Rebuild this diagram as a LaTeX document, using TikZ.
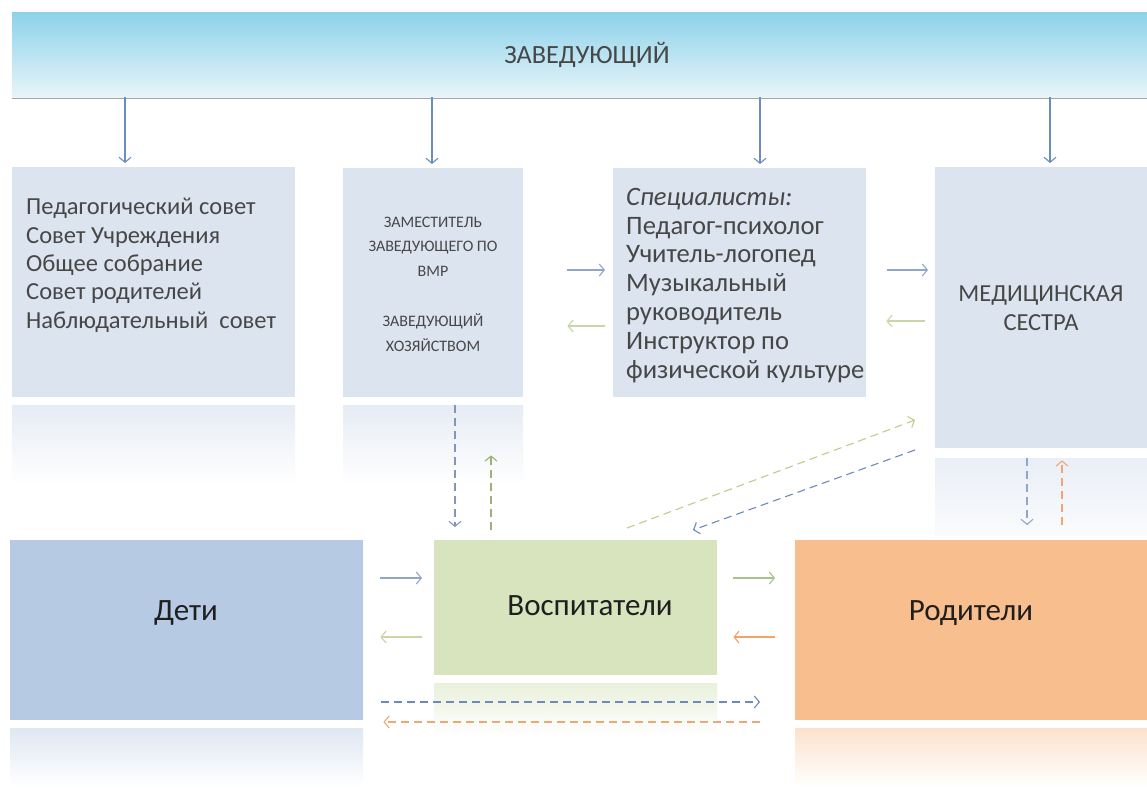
\documentclass[tikz,border=0pt]{standalone}
\usepackage{fontspec}
\setmainfont{Carlito}
\usetikzlibrary{arrows.meta,calc}
\definecolor{boxgray}{HTML}{DCE4EF}
\definecolor{bantop}{HTML}{8DD2EA}
\definecolor{banbot}{HTML}{E8F5F9}
\definecolor{detifill}{HTML}{B7CAE3}
\definecolor{vospfill}{HTML}{D7E4BD}
\definecolor{rodfill}{HTML}{F9BE8D}
\definecolor{txtgray}{HTML}{474747}
\definecolor{topblue}{HTML}{6D8CBE}
\definecolor{cblue}{HTML}{8FA7CC}
\definecolor{cgreen}{HTML}{C8D6A8}
\definecolor{cgreen2}{HTML}{A9C18A}
\definecolor{corange}{HTML}{F2A46C}
\definecolor{dblue}{HTML}{6E8AB8}
\definecolor{dgreen}{HTML}{BCCF8E}
\definecolor{dorange}{HTML}{F1A676}
\begin{document}
\begin{tikzpicture}[x=1pt,y=-1pt,
  plainbox/.style={fill=boxgray, draw=none, inner sep=0pt, anchor=north west},
  arr/.style={-{Straight Barb[length=5pt,width=12pt]}, line width=1.1pt},
  dsh/.style={arr, dash pattern=on 8pt off 5pt},
  txt/.style={text=txtgray, inner sep=0pt},
  bigtxt/.style={inner sep=0pt, text=black!88, font=\fontsize{31}{34}\selectfont, anchor=base}
]
\useasboundingbox (0,0) rectangle (1147,787);
\fill[white] (0,0) rectangle (1147,787);

% banner
\fill[gray!70] (12,95) rectangle (1165,99);
\node[inner sep=0pt, anchor=north west, minimum width=1153pt, minimum height=85pt,
      top color=bantop, bottom color=banbot, draw=none] (top) at (12,12) {};
\node[txt, font=\fontsize{26.3}{30}\selectfont] (toptxt) at (587,55) {ЗАВЕДУЮЩИЙ};

% upper boxes
\node[plainbox, minimum width=283pt, minimum height=230pt] (b1) at (12,167) {};
\node[plainbox, minimum width=180pt, minimum height=229pt] (b2) at (343,168) {};
\node[plainbox, minimum width=253pt, minimum height=229pt] (b3) at (613,168) {};
\node[plainbox, minimum width=212pt, minimum height=281pt] (b4) at (935,167) {};

% reflections
\shade[top color=boxgray!70, bottom color=white] (12,405) rectangle (295,485);
\shade[top color=boxgray!70, bottom color=white] (343,405) rectangle (523,485);
\shade[top color=boxgray!60, bottom color=boxgray!15] (935,458) rectangle (1147,535);

% texts upper (base anchor = last line)
\node[txt, anchor=base west, align=left, font=\fontsize{24.5}{28.3}\selectfont] (t1) at (26,328)
  {Педагогический совет\\Совет Учреждения\\Общее собрание\\Совет родителей\\Наблюдательный\ \ совет};
\node[txt, align=center, font=\fontsize{16}{24.8}\selectfont] (t2) at (433,284)
  {ЗАМЕСТИТЕЛЬ\\ЗАВЕДУЮЩЕГО ПО\\ВМР\\[24.8pt]ЗАВЕДУЮЩИЙ\\ХОЗЯЙСТВОМ};
\node[txt, anchor=base west, align=left, font=\fontsize{26.6}{28.8}\selectfont] (t3) at (626,378)
  {\textit{Специалисты:}\\Педагог-психолог\\Учитель-логопед\\Музыкальный\\руководитель\\Инструктор по\\физической культуре};
\node[txt, anchor=base, align=center, font=\fontsize{24.5}{29}\selectfont] (t4) at (1041,330)
  {МЕДИЦИНСКАЯ\\СЕСТРА};

% lower boxes
\node[plainbox, fill=detifill, minimum width=353pt, minimum height=180pt] (deti) at (10,540) {};
\node[plainbox, fill=vospfill, minimum width=283pt, minimum height=135pt] (vosp) at (434,540) {};
\node[plainbox, fill=rodfill, minimum width=352pt, minimum height=180pt] (rod) at (795,540) {};
\shade[top color=detifill!45, bottom color=white] (10,728) rectangle (363,787);
\shade[top color=vospfill!55, bottom color=white] (434,683) rectangle (717,735);
\shade[top color=rodfill!45, bottom color=white] (795,728) rectangle (1147,787);

\node[bigtxt] (tdeti) at (186,620) {Дети};
\node[bigtxt] (tvosp) at (590,615) {Воспитатели};
\node[bigtxt] (trod) at (971,620) {Родители};

% helper coordinates
\coordinate (x1) at (125,0);
\coordinate (x2) at (432,0);
\coordinate (x3) at (760,0);
\coordinate (x4) at (1050,0);
\coordinate (ya) at (0,270);
\coordinate (yb) at (0,326);
\coordinate (yc) at (0,321);
\coordinate (vx1) at (455,0);
\coordinate (vx2) at (491,0);
\coordinate (vx3) at (1027,0);
\coordinate (vx4) at (1062,0);
\coordinate (y1) at (0,578);
\coordinate (y2) at (0,637);
\coordinate (y3) at (0,702);
\coordinate (y4) at (0,722);
\coordinate (g1) at (627,528);
\coordinate (g2) at (915,420);
\coordinate (h1) at (915,450);
\coordinate (h2) at (693,530);

% top arrows
\foreach \xc/\bx in {x1/b1,x2/b2,x3/b3,x4/b4}
  \draw[arr, topblue, shorten >=4pt] (top.south -| \xc) -- (\bx.north -| \xc);

% horizontal upper arrows
\draw[arr, cblue, shorten <=44pt, shorten >=8pt] (b2.east |- ya) -- (b3.west |- ya);
\draw[arr, cgreen, shorten <=8pt, shorten >=44pt] (b3.west |- yb) -- (b2.east |- yb);
\draw[arr, cblue, shorten <=21pt, shorten >=7pt] (b3.east |- ya) -- (b4.west |- ya);
\draw[arr, cgreen, shorten <=10pt, shorten >=20pt] (b4.west |- yc) -- (b3.east |- yc);

% vertical dashed
\draw[dsh, cblue!90!black, shorten <=8pt, shorten >=13pt] (b2.south -| vx1) -- (vosp.north -| vx1);
\draw[dsh, dgreen!85!black, shorten <=10pt, shorten >=58pt] (vosp.north -| vx2) -- (b2.south -| vx2);
\draw[dsh, cblue, shorten <=10pt, shorten >=15pt] (b4.south -| vx3) -- (rod.north -| vx3);
\draw[dsh, dorange, shorten <=15pt, shorten >=12pt] (rod.north -| vx4) -- (b4.south -| vx4);

% diagonal dashed
\draw[dsh, dgreen] (g1) -- (g2);
\draw[dsh, dblue] (h1) -- (h2);

% lower arrows
\draw[arr, cblue, shorten <=17pt, shorten >=12pt] (deti.east |- y1) -- (vosp.west |- y1);
\draw[arr, cgreen, shorten <=12pt, shorten >=17pt] (vosp.west |- y2) -- (deti.east |- y2);
\draw[arr, cgreen2, shorten <=16pt, shorten >=20pt] (vosp.east |- y1) -- (rod.west |- y1);
\draw[arr, corange, shorten <=20pt, shorten >=16pt] (rod.west |- y2) -- (vosp.east |- y2);
\draw[dsh, dblue, shorten <=18pt, shorten >=35pt] (deti.east |- y3) -- (rod.west |- y3);
\draw[dsh, dorange, shorten <=35pt, shorten >=20pt] (rod.west |- y4) -- (deti.east |- y4);
\end{tikzpicture}
\end{document}
